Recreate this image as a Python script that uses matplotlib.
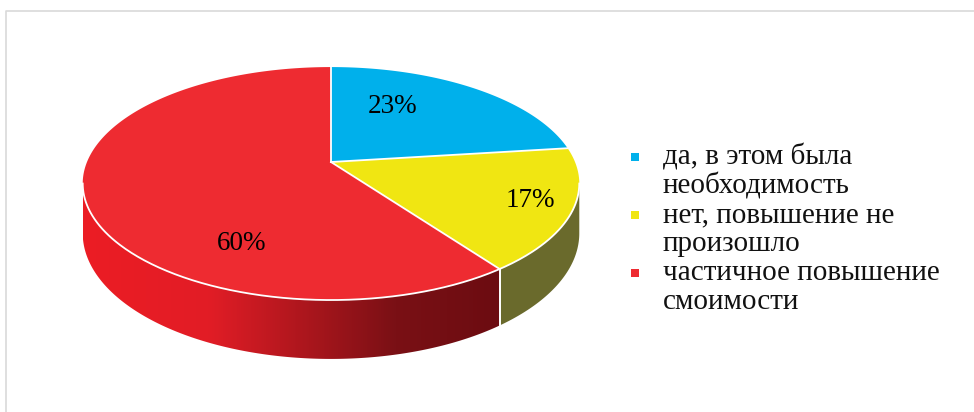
import numpy as np
import matplotlib
matplotlib.use('Agg')
import matplotlib.pyplot as plt
from matplotlib.patches import Polygon
from matplotlib.colors import LinearSegmentedColormap
from matplotlib.lines import Line2D

# ---- data ----
categories = ['да, в этом была\nнеобходимость',
              'нет, повышение не\nпроизошло',
              'частичное повышение\nсмоимости']
values = [23, 17, 60]
pct_labels = ['23%', '17%', '60%']

# ---- style ----
top_colors = ['#00B0EB', '#F0E612', '#EE2B31']
side_colors = ['#0A6E96', '#6A6A2C', None]  # red side uses a gradient
label_xy = [(393, 106), (530, 200), (242, 243)]

W, H = 974, 412
fig = plt.figure(figsize=(W / 100, H / 100), dpi=100)
ax = fig.add_axes([0, 0, 1, 1])
ax.set_xlim(0, W)
ax.set_ylim(H, 0)
ax.axis('off')

# frame
ax.add_line(Line2D([5.5, 5.5, W], [H, 10.5, 10.5], color='#D9D9D9', lw=1.2))

# projection of a tilted, slightly perspective disc
cx, cy = 331, 162
sx, ty, k, depth = 244, 112.5, 0.185, 48


def proj(theta_deg, drop=0.0):
    th = np.radians(theta_deg)
    X = np.sin(th)
    Z = np.cos(th)
    d = 1 + k * Z
    return cx + sx * X / d, cy + (-ty * Z + drop) / d


total = float(sum(values))
bounds = np.concatenate([[0], np.cumsum(values) / total * 360.0])

# silhouette angles (cos = -k)
vis_a = np.degrees(np.arccos(-k))
vis_b = 360 - vis_a

# sides
for i in range(len(values)):
    a, b = bounds[i], bounds[i + 1]
    lo, hi = max(a, vis_a), min(b, vis_b)
    if hi <= lo:
        continue
    th = np.linspace(lo, hi, 200)
    xt, yt = proj(th)
    xb, yb = proj(th[::-1], depth)
    pts = np.column_stack([np.concatenate([xt, xb]), np.concatenate([yt, yb])])
    if side_colors[i] is not None:
        ax.add_patch(Polygon(pts, closed=True, fc=side_colors[i], ec='none', zorder=2))
    else:
        poly = Polygon(pts, closed=True, fc='none', ec='none', zorder=2)
        ax.add_patch(poly)
        cmap = LinearSegmentedColormap.from_list(
            'redside', [(0.0, '#EC1C24'), (0.30, '#E21D26'),
                        (0.75, '#7A1015'), (1.0, '#6C0C11')])
        grad = np.linspace(0, 1, 512).reshape(1, -1)
        x0, x1 = pts[:, 0].min(), pts[:, 0].max()
        y0, y1 = pts[:, 1].min(), pts[:, 1].max()
        im = ax.imshow(grad, cmap=cmap, extent=[x0, x1, y1, y0],
                       aspect='auto', zorder=2, interpolation='bilinear')
        im.set_clip_path(poly)
    # white vertical edge at slice boundary visible on the side
    for edge in (a, b):
        if vis_a < edge < vis_b:
            ex0, ey0 = proj(edge)
            ex1, ey1 = proj(edge, depth)
            ax.add_line(Line2D([ex0, ex1], [ey0, ey1], color='white', lw=1.3, zorder=3))

# top faces
for i in range(len(values)):
    a, b = bounds[i], bounds[i + 1]
    th = np.linspace(a, b, 300)
    xt, yt = proj(th)
    pts = np.column_stack([np.concatenate([[cx], xt]), np.concatenate([[cy], yt])])
    ax.add_patch(Polygon(pts, closed=True, fc=top_colors[i], ec='none', zorder=4))

# white edges on top
for edge in bounds[:-1]:
    ex, ey = proj(edge)
    ax.add_line(Line2D([cx, ex], [cy, ey], color='white', lw=1.3, zorder=5))
th = np.linspace(vis_a, vis_b, 300)
xt, yt = proj(th)
ax.plot(xt, yt, color='white', lw=1.3, zorder=5)

# percentage labels
for (lx, ly), txt in zip(label_xy, pct_labels):
    ax.text(lx, ly, txt, ha='center', va='center', fontsize=19.5,
            family='Liberation Serif', color='black', zorder=6)

# legend
leg_x, leg_y0, line_h = 635, 157, 29
y = leg_y0
for col, cat in zip(top_colors, categories):
    ax.add_patch(Polygon([[leg_x - 4, y - 4], [leg_x + 4, y - 4],
                          [leg_x + 4, y + 4], [leg_x - 4, y + 4]],
                         closed=True, fc=col, ec='none', zorder=6))
    for j, line in enumerate(cat.split('\n')):
        ax.text(leg_x + 28, y + j * line_h, line, ha='left', va='center',
                fontsize=21, family='Liberation Serif', color='#111111', zorder=6)
    y += line_h * len(cat.split('\n'))

fig.savefig('out.png', dpi=100)
